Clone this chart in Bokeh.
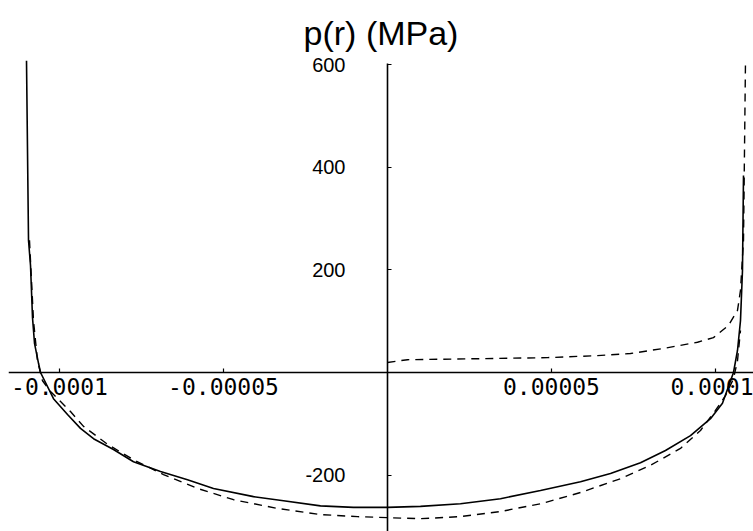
from bokeh.plotting import figure
from bokeh.models import FixedTicker, Range1d
from bokeh.embed import file_html
from bokeh.resources import INLINE

# ---- data (r in metres, p in MPa) ----
solid_r = [-1.1006e-4, -1.0945e-4, -1.0884e-4, -1.0823e-4, -1.0762e-4, -1.0640e-4,
           -1.0579e-4, -1.0183e-4, -0.9756e-4, -0.9360e-4, -0.8963e-4, -0.8354e-4,
           -0.7744e-4, -0.6921e-4, -0.6098e-4, -0.5305e-4, -0.4085e-4, -0.3171e-4,
           -0.2043e-4, -0.1037e-4, 0.0,
           0.1006e-4, 0.2226e-4, 0.3445e-4, 0.4665e-4, 0.5884e-4, 0.6799e-4,
           0.7713e-4, 0.8476e-4, 0.9238e-4, 0.9848e-4, 1.0213e-4, 1.0549e-4,
           1.0671e-4, 1.0762e-4, 1.0823e-4, 1.0854e-4]
solid_p = [608, 258, 209, 107, 57, 18,
           0, -51, -82, -109, -129, -150,
           -174, -193, -209, -226, -242, -250,
           -260, -263, -263,
           -261, -256, -246, -230, -213, -197,
           -176, -152, -123, -90, -60, 0,
           43, 101, 199, 384]

dash_low_r = [-1.0915e-4, -1.0793e-4, -1.0671e-4, -1.0518e-4, -1.0274e-4, -0.9665e-4,
              -0.9268e-4, -0.8537e-4, -0.7744e-4, -0.6829e-4, -0.5793e-4, -0.4695e-4,
              -0.3354e-4, -0.2043e-4, -0.0915e-4, 0.0,
              0.1006e-4, 0.2226e-4, 0.3445e-4, 0.4665e-4, 0.5884e-4, 0.7104e-4,
              0.8018e-4, 0.8933e-4, 0.9543e-4, 1.0000e-4, 1.0305e-4, 1.0549e-4,
              1.0671e-4, 1.0762e-4]
dash_low_p = [258, 101, 23, -16, -37, -76,
              -105, -140, -170, -199, -226, -248,
              -265, -277, -281, -283,
              -285, -281, -271, -256, -234, -207,
              -181, -148, -113, -74, -45, -12,
              23, 82]

dash_up_r = [0.0, 0.061e-4, 0.2835e-4, 0.4878e-4, 0.6402e-4, 0.7409e-4, 0.8415e-4,
             0.9451e-4, 0.9939e-4, 1.0396e-4, 1.0671e-4, 1.0762e-4, 1.0854e-4, 1.0915e-4]
dash_up_p = [19.5, 25, 27, 29, 33, 37, 47,
             59, 68, 92, 121, 160, 258, 608]

x_ticks = [-1e-4, -5e-5, 5e-5, 1e-4]
x_tick_labels = ["-0.0001", "-0.00005", "0.00005", "0.0001"]
y_ticks = [-200, 200, 400, 600]
y_tick_labels = ["-200", "200", "400", "600"]

title_text = "p(r) (MPa)"

p = figure(width=753, height=531, output_backend="svg", toolbar_location=None,
           x_range=Range1d(-1.1555e-4, 1.1159e-4), y_range=Range1d(-310, 624),
           min_border_left=8, min_border_right=0, min_border_top=52, min_border_bottom=0,
           title=title_text)
p.title.align = "center"
p.title.text_font = "Liberation Sans"
p.title.text_font_size = "34px"
p.title.text_font_style = "normal"
p.title.text_color = "black"
p.title.standoff = 2

p.grid.visible = False
p.outline_line_color = None
p.background_fill_color = "white"
p.border_fill_color = "white"

for ax in (p.xaxis[0], p.yaxis[0]):
    ax.fixed_location = 0
    ax.axis_line_color = "black"
    ax.axis_line_width = 1.6
    ax.major_tick_line_color = "black"
    ax.major_tick_line_width = 1.2
    ax.major_tick_out = 0
    ax.major_tick_in = 4
    ax.minor_tick_line_color = None
    ax.major_label_text_color = "black"

p.yaxis.bounds = (-320, 603)

p.xaxis.ticker = FixedTicker(ticks=x_ticks)
p.xaxis.major_label_overrides = dict(zip(x_ticks, x_tick_labels))
p.xaxis.major_label_text_font = "DejaVu Sans Mono"
p.xaxis.major_label_text_font_size = "23px"
p.xaxis.major_label_standoff = 5

p.yaxis.ticker = FixedTicker(ticks=y_ticks)
p.yaxis.major_label_overrides = dict(zip(y_ticks, y_tick_labels))
p.yaxis.major_label_text_font = "Liberation Sans"
p.yaxis.major_label_text_font_size = "20px"
p.yaxis.major_label_standoff = 42

p.line(solid_r, solid_p, line_color="black", line_width=1.6)
p.line(dash_low_r, dash_low_p, line_color="black", line_width=1.4, line_dash="8 6")
p.line(dash_up_r, dash_up_p, line_color="black", line_width=1.4, line_dash="8 6")

open("out.html", "w").write(file_html(p, INLINE))
